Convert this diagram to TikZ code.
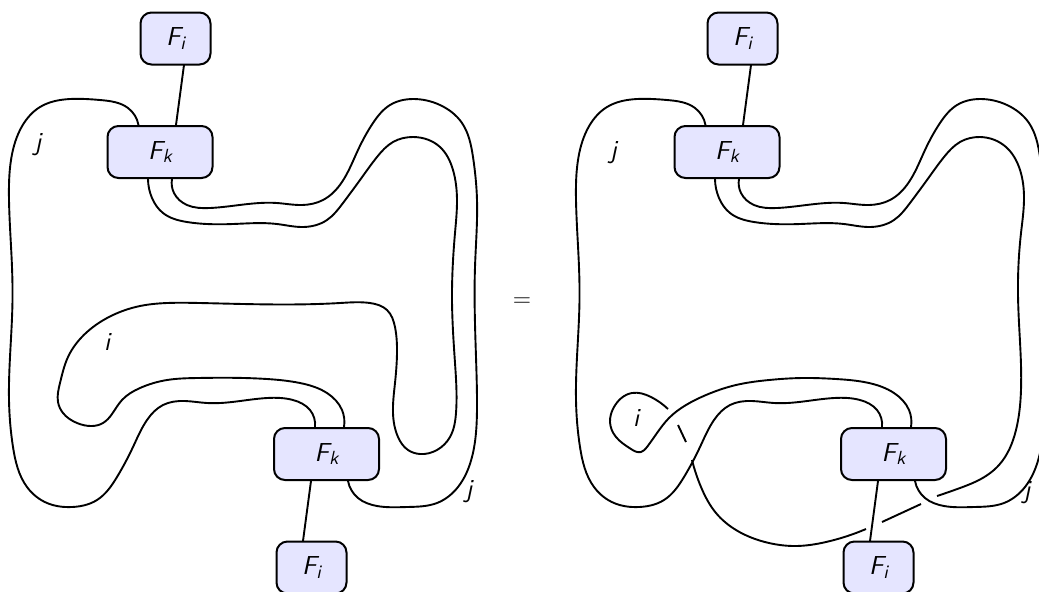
\documentclass[tikz,border=0pt]{standalone}
\usetikzlibrary{hobby}
\tikzset{
  x=0.5pt,y=-0.5pt,
  strand/.style={line width=0.95pt,black,line join=round,use Hobby shortcut},
  box/.style={draw=black,line width=1pt,fill=blue!10,rounded corners=5.5pt,minimum height=26pt,inner sep=0pt,font=\fontsize{13}{15}\sffamily\slshape},
  ibox/.style={box,minimum width=35pt},
  kbox/.style={box,minimum width=52.5pt},
  lab/.style={inner sep=0pt,font=\fontsize{13}{15}\sffamily\slshape},
}
\newcommand\fsub[2]{#1\raisebox{-0.3ex}{\fontsize{9.5}{11}\selectfont #2}}
\newcommand\strandA[2]{%
  \draw[strand] (#1) .. (128,108) .. (100,100) .. (70,99) .. (40,107) .. (20,130) .. (11,160) .. (9,200) .. (12,267) .. (12.5,300) .. (10,357) .. (9,400) .. (13,447) .. (27,487) .. (47,503) .. (72,507) .. (97,500) .. (117,477) .. (133,447) .. (147,420) .. (163,405) .. (185,401) .. (207,403) .. (267,398) .. (293,400) .. (310,410) .. (#2);}
\newcommand\strandC[2]{%
  \draw[strand] (#1) .. (174,193) .. (187,205) .. (210,208) .. (277,203) .. (302,205) .. (323,200) .. (342,182) .. (358,150) .. (373,123) .. (390,105) .. (413,99) .. (440,105) .. (462,123) .. (473,157) .. (477,200) .. (475,267) .. (476,357) .. (477,407) .. (472,457) .. (458,487) .. (437,503) .. (407,507) .. (377,506) .. (358,498) .. (#2);}
\begin{document}
\begin{tikzpicture}
\useasboundingbox (0,0) rectangle (1039,591);
% left picture
\node[ibox] (Ia) at (175.5,38.5) {\fsub{F}{i}};
\node[kbox] (Ka) at (160,152) {\fsub{F}{k}};
\node[kbox] (Kb) at (326.5,454) {\fsub{F}{k}};
\node[ibox] (Ib) at (311.5,567.5) {\fsub{F}{i}};
\coordinate (a1) at (138.5,125); \coordinate (a2) at (315,427);
\coordinate (b1) at (344,427);   \coordinate (b2) at (148,179);
\coordinate (c1) at (172,179);   \coordinate (c2) at (348,481);
\coordinate (d1) at (184,65);    \coordinate (d2) at (176,125);
\coordinate (e1) at (311,481);   \coordinate (e2) at (303,541);
\strandA{a1}{a2}
\strandC{c1}{c2}
\draw[strand] (b1) .. (342,410) .. (327,393) .. (300,383) .. (267,379) .. (197,378) .. (167,380) .. (140,388) .. (122,400) .. (112,414) .. (103,423) .. (92,426) .. (77,423) .. (63,413) .. (58,402) .. (60,383) .. (68,357) .. (87,332) .. (113,315) .. (140,306) .. (167,303) .. (200,303) .. (340,303) .. (370,303) .. (387,310) .. (395,327) .. (397,353) .. (395,383) .. (393,413) .. (398,437) .. (408,450) .. (420,454) .. (437,450) .. (450,437) .. (456,413) .. (455,363) .. (452,300) .. (455,233) .. (457,200) .. (453,170) .. (440,147) .. (413,137) .. (393,142) .. (377,157) .. (360,180) .. (343,203) .. (327,220) .. (302,227) .. (277,224) .. (233,224) .. (187,222) .. (163,213) .. (152,198) .. (b2);
\draw[strand] (d1) -- (d2);
\draw[strand] (e1) -- (e2);
\node[lab] (ja) at (38,145) {j};
\node[lab] (ia) at (107,342) {i};
\node[lab] (jb) at (469,492) {j};
\node[inner sep=0pt,font=\fontsize{13}{15}\selectfont] (eq) at (522,302) {$=$};
% right picture
\node[ibox] (Ic) at (742.5,38.5) {\fsub{F}{i}};
\node[kbox] (Kc) at (727,152) {\fsub{F}{k}};
\node[kbox] (Kd) at (893.5,454) {\fsub{F}{k}};
\node[ibox] (Id) at (878.5,567.5) {\fsub{F}{i}};
\coordinate (f1) at (751,65);  \coordinate (f2) at (743,125);
\coordinate (g1) at (878,481); \coordinate (g2) at (870,541);
\draw[strand] (f1) -- (f2);
\draw[strand] (g1) -- (g2);
\begin{scope}[xshift=283.5pt]
\coordinate (ra1) at (138.5,125); \coordinate (ra2) at (315,427);
\coordinate (rc1) at (172,179);   \coordinate (rc2) at (348,481);
\strandA{ra1}{ra2}
\strandC{rc1}{rc2}
\end{scope}
\coordinate (h1) at (911,427); \coordinate (h2) at (668,409);
\draw[strand] (h1) .. (909,410) .. (894,393) .. (869,383) .. (836,379) .. (802,378) .. (769,380) .. (736,385) .. (706,395) .. (686,405) .. (669,418) .. (657,433) .. (647,447) .. (641,452) .. (631,449) .. (616,437) .. (610,422) .. (614,407) .. (632,393) .. (651,397) .. (h2);
\coordinate (s1) at (678,425); \coordinate (s2) at (686,442);
\draw[strand] (s1) -- (s2);
\coordinate (u1) at (692,460); \coordinate (u2) at (866,529);
\draw[strand] (u1) .. (701,487) .. (716,513) .. (736,530) .. (769,543) .. (796,546) .. (826,542) .. (u2);
\coordinate (v1) at (882,522); \coordinate (v2) at (921,504);
\draw[strand] (v1) -- (v2);
\coordinate (w1) at (937,496); \coordinate (w2) at (715,179);
\draw[strand] (w1) .. (960,488) .. (979,480) .. (999,465) .. (1016,430) .. (1021,390) .. (1019,323) .. (1018,295) .. (1021,233) .. (1024,200) .. (1019,167) .. (1006,147) .. (980,137) .. (960,142) .. (944,157) .. (927,180) .. (910,203) .. (894,220) .. (869,227) .. (844,224) .. (800,224) .. (754,222) .. (730,213) .. (719,198) .. (w2);
\node[lab] (jc) at (613.5,153) {j};
\node[lab] (ib) at (636,418) {i};
\node[lab] (jd) at (1027,493) {j};
\end{tikzpicture}
\end{document}
